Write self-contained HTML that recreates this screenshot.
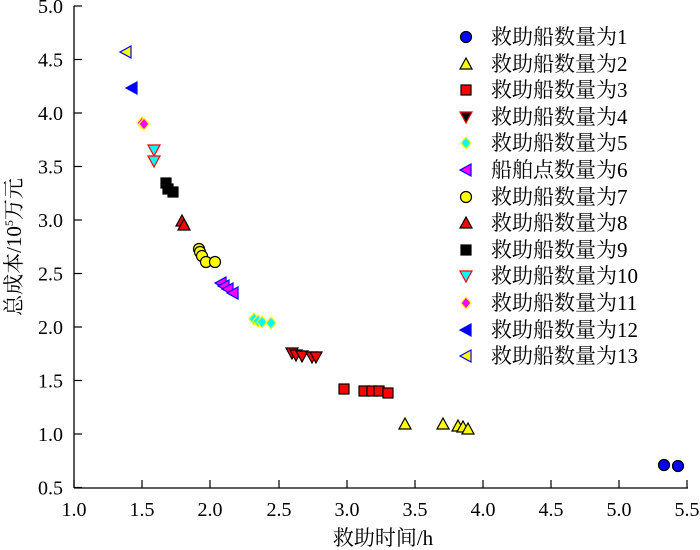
<!DOCTYPE html>
<html><head><meta charset="utf-8"><style>
html,body{margin:0;padding:0;background:#fff;}
svg{display:block;font-family:"Liberation Serif","Noto Serif CJK SC",serif;}
</style></head><body>
<svg width="700" height="550" viewBox="0 0 700 550" xmlns="http://www.w3.org/2000/svg">
<defs>
<circle id="ci" r="5.5"/>
<polygon id="tu" points="0,-6 6,5 -6,5"/>
<polygon id="td" points="0,6 6,-5 -6,-5"/>
<polygon id="tl" points="-6,0 5,-6 5,6"/>
<rect id="sq" x="-5" y="-5" width="10" height="10"/>
<polygon id="di" points="0,-6 5,0 0,6 -5,0"/>
</defs>
<g stroke="#000" stroke-width="1.3" fill="none">
<line x1="74" y1="6" x2="74" y2="488"/>
<line x1="74" y1="488" x2="688" y2="488"/>
</g>
<g stroke="#000" stroke-width="1.2">
<line x1="74" y1="6" x2="82" y2="6"/><line x1="74" y1="59.5" x2="82" y2="59.5"/><line x1="74" y1="113" x2="82" y2="113"/><line x1="74" y1="166.5" x2="82" y2="166.5"/><line x1="74" y1="220" x2="82" y2="220"/><line x1="74" y1="273.5" x2="82" y2="273.5"/><line x1="74" y1="327" x2="82" y2="327"/><line x1="74" y1="380.5" x2="82" y2="380.5"/><line x1="74" y1="434" x2="82" y2="434"/><line x1="74" y1="487.5" x2="82" y2="487.5"/>
<line x1="74" y1="488" x2="74" y2="480"/><line x1="142" y1="488" x2="142" y2="480"/><line x1="210" y1="488" x2="210" y2="480"/><line x1="279" y1="488" x2="279" y2="480"/><line x1="347" y1="488" x2="347" y2="480"/><line x1="415" y1="488" x2="415" y2="480"/><line x1="483" y1="488" x2="483" y2="480"/><line x1="551" y1="488" x2="551" y2="480"/><line x1="619" y1="488" x2="619" y2="480"/><line x1="687" y1="488" x2="687" y2="480"/>
</g>
<g font-size="20" text-anchor="end" fill="#000">
<text x="63" y="13">5.0</text><text x="63" y="66.5">4.5</text><text x="63" y="120">4.0</text><text x="63" y="173.5">3.5</text><text x="63" y="227">3.0</text><text x="63" y="280.5">2.5</text><text x="63" y="334">2.0</text><text x="63" y="387.5">1.5</text><text x="63" y="441">1.0</text><text x="63" y="494.5">0.5</text>
</g>
<g font-size="20" text-anchor="middle" fill="#000">
<text x="74" y="516">1.0</text><text x="142" y="516">1.5</text><text x="210" y="516">2.0</text><text x="279" y="516">2.5</text><text x="347" y="516">3.0</text><text x="415" y="516">3.5</text><text x="483" y="516">4.0</text><text x="551" y="516">4.5</text><text x="619" y="516">5.0</text><text x="687" y="516">5.5</text>
<text x="383" y="545" font-size="21">救助时间/h</text>
</g>
<text transform="translate(21,247) rotate(-90)" font-size="21" text-anchor="middle">总成本/10<tspan font-size="12" dy="-8">5</tspan><tspan dy="8">万元</tspan></text>

<g stroke-width="1.2">
<g fill="#ffff00" stroke="#0000ff"><use href="#tl" x="126" y="52"/></g>
<g fill="#0000ff" stroke="#0000ff"><use href="#tl" x="132" y="88"/></g>
<g fill="#ff00ff" stroke="#ffff00"><use href="#di" x="142" y="123"/><use href="#di" x="144" y="124"/></g>
<g fill="#00ffff" stroke="#ff0000"><use href="#td" x="154" y="150"/><use href="#td" x="154" y="161"/></g>
<g fill="#000" stroke="#000"><use href="#sq" x="166" y="183"/><use href="#sq" x="168" y="189"/><use href="#sq" x="173" y="192"/></g>
<g fill="#ff0000" stroke="#000"><use href="#tu" x="182" y="221"/><use href="#tu" x="184" y="225"/></g>
<g fill="#ffff00" stroke="#000"><use href="#ci" x="199" y="249"/><use href="#ci" x="200" y="252"/><use href="#ci" x="202" y="256"/><use href="#ci" x="206" y="262"/><use href="#ci" x="215" y="262"/></g>
<g fill="#ff00ff" stroke="#0000ff"><use href="#tl" x="221" y="283"/><use href="#tl" x="224" y="286"/><use href="#tl" x="228" y="289"/><use href="#tl" x="233" y="293"/></g>
<g fill="#00ffff" stroke="#ffff00"><use href="#di" x="254" y="319"/><use href="#di" x="258" y="321"/><use href="#di" x="262" y="322"/><use href="#di" x="271" y="323"/></g>
<g fill="#ff0000" stroke="#000"><use href="#td" x="292" y="353"/><use href="#td" x="296" y="355"/><use href="#td" x="302" y="356"/><use href="#td" x="312" y="357"/><use href="#td" x="316" y="357"/></g>
<g fill="#ff0000" stroke="#000"><use href="#sq" x="344" y="389"/><use href="#sq" x="364" y="391"/><use href="#sq" x="372" y="391"/><use href="#sq" x="379" y="391"/><use href="#sq" x="388" y="393"/></g>
<g fill="#ffff00" stroke="#000"><use href="#tu" x="405" y="424"/><use href="#tu" x="443" y="424"/><use href="#tu" x="458" y="426"/><use href="#tu" x="463" y="427"/><use href="#tu" x="468" y="429"/></g>
<g fill="#0000ff" stroke="#000"><use href="#ci" x="664" y="465"/><use href="#ci" x="678" y="466"/></g>
</g>

<g stroke-width="1.2">
<use href="#ci" x="466" y="37" fill="#0000ff" stroke="#000"/>
<use href="#tu" x="466" y="64" fill="#ffff00" stroke="#000"/>
<use href="#sq" x="466" y="90" fill="#ff0000" stroke="#000"/>
<use href="#td" x="466" y="117" fill="#000" stroke="#ff0000"/>
<use href="#di" x="466" y="143" fill="#00ffff" stroke="#ffff00"/>
<use href="#tl" x="466" y="170" fill="#ff00ff" stroke="#0000ff"/>
<use href="#ci" x="466" y="197" fill="#ffff00" stroke="#000"/>
<use href="#tu" x="466" y="223" fill="#ff0000" stroke="#000"/>
<use href="#sq" x="466" y="250" fill="#000" stroke="#000"/>
<use href="#td" x="466" y="276" fill="#00ffff" stroke="#ff0000"/>
<use href="#di" x="466" y="303" fill="#ff00ff" stroke="#ffff00"/>
<use href="#tl" x="466" y="330" fill="#0000ff" stroke="#0000ff"/>
<use href="#tl" x="466" y="356" fill="#ffff00" stroke="#0000ff"/>
</g>
<g font-size="21" fill="#000">
<text x="491" y="44">救助船数量为1</text>
<text x="491" y="71">救助船数量为2</text>
<text x="491" y="97">救助船数量为3</text>
<text x="491" y="124">救助船数量为4</text>
<text x="491" y="150">救助船数量为5</text>
<text x="491" y="177">船舶点数量为6</text>
<text x="491" y="204">救助船数量为7</text>
<text x="491" y="230">救助船数量为8</text>
<text x="491" y="257">救助船数量为9</text>
<text x="491" y="283">救助船数量为10</text>
<text x="491" y="310">救助船数量为11</text>
<text x="491" y="337">救助船数量为12</text>
<text x="491" y="363">救助船数量为13</text>
</g>
</svg>
</body></html>
